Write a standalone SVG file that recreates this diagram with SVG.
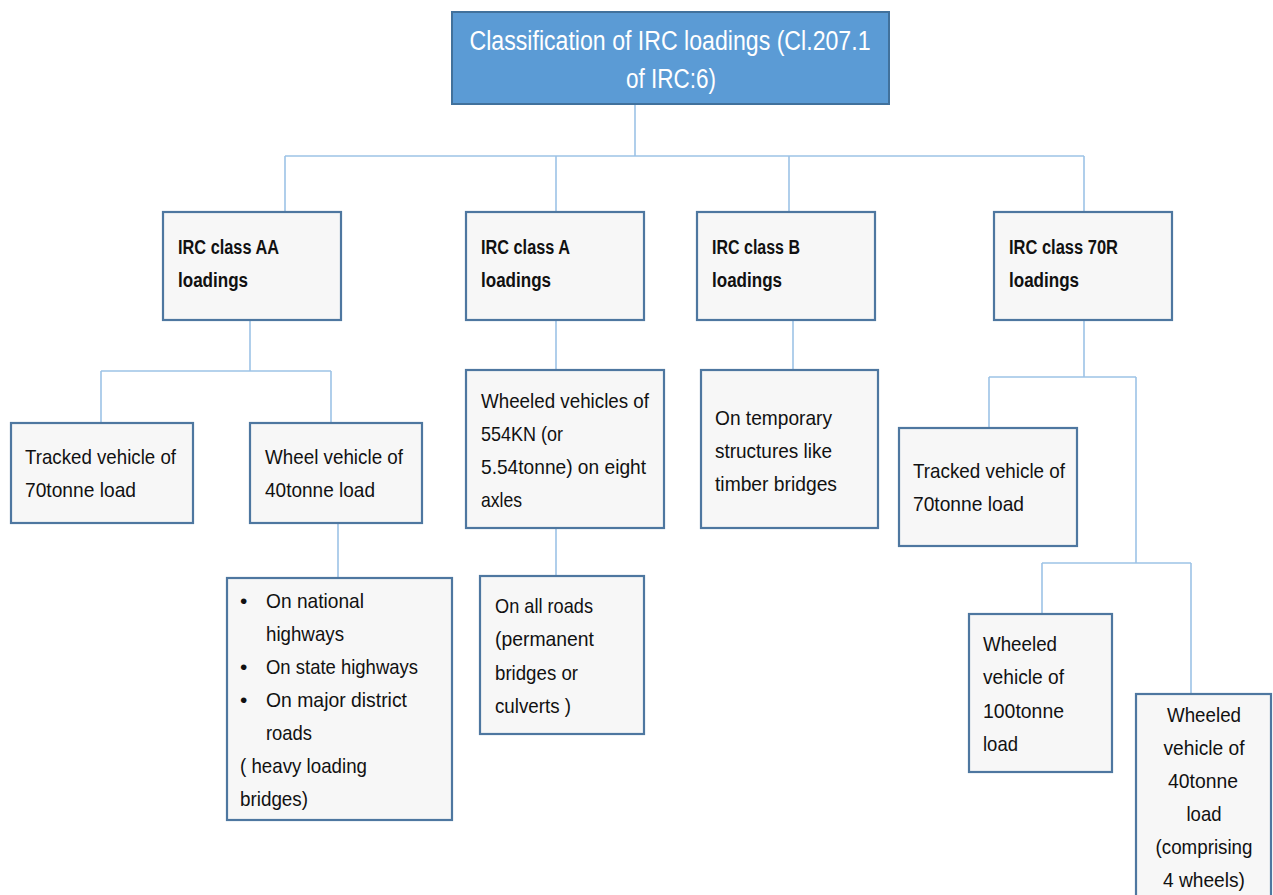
<svg xmlns="http://www.w3.org/2000/svg" width="1273" height="895" viewBox="0 0 1273 895">
<style>
.box{fill:#f7f7f7;stroke:#4e77a0;stroke-width:2.2}
.title{fill:#5b9bd5;stroke:#41719c;stroke-width:2}
.t{font-family:"Liberation Sans",Arial,sans-serif;font-size:21px;fill:#111}
.b{font-family:"Liberation Sans",Arial,sans-serif;font-size:20px;font-weight:bold;fill:#111}
.tt{font-family:"Liberation Sans",Arial,sans-serif;font-size:27px;fill:#fff;text-anchor:middle}
.c{fill:none;stroke:#9dc3e6;stroke-width:1.6}
.m{text-anchor:middle}
</style>
<rect width="1273" height="895" fill="#fff"/>
<g id="connectors">
<path class="c" d="M635 104V156M285 156H1084M285 156V212M556 156V212M789 156V212M1084 156V212"/>
<path class="c" d="M250 320V371M101 371H331M101 371V423M331 371V423M338 523V578"/>
<path class="c" d="M556 320V370M556 528V576"/>
<path class="c" d="M793 320V370"/>
<path class="c" d="M1084 320V377M989 377H1136M989 377V428M1136 377V563M1042 563H1191M1042 563V614M1191 563V694"/>
</g>
<g id="root">
<rect class="title" x="452" y="12" width="437" height="92"/>
<text class="tt" x="670" y="50" textLength="401" lengthAdjust="spacingAndGlyphs">Classification of IRC loadings (Cl.207.1</text>
<text class="tt" x="671" y="88" textLength="90" lengthAdjust="spacingAndGlyphs">of IRC:6)</text>
</g>
<g id="classAA">
<rect class="box" x="163" y="212" width="178" height="108"/>
<text class="b" x="178" y="254" textLength="101" lengthAdjust="spacingAndGlyphs">IRC class AA</text>
<text class="b" x="178" y="287" textLength="70" lengthAdjust="spacingAndGlyphs">loadings</text>
</g>
<g id="classA">
<rect class="box" x="466" y="212" width="178" height="108"/>
<text class="b" x="481" y="254" textLength="89" lengthAdjust="spacingAndGlyphs">IRC class A</text>
<text class="b" x="481" y="287" textLength="70" lengthAdjust="spacingAndGlyphs">loadings</text>
</g>
<g id="classB">
<rect class="box" x="697" y="212" width="178" height="108"/>
<text class="b" x="712" y="254" textLength="88" lengthAdjust="spacingAndGlyphs">IRC class B</text>
<text class="b" x="712" y="287" textLength="70" lengthAdjust="spacingAndGlyphs">loadings</text>
</g>
<g id="class70R">
<rect class="box" x="994" y="212" width="178" height="108"/>
<text class="b" x="1009" y="254" textLength="109" lengthAdjust="spacingAndGlyphs">IRC class 70R</text>
<text class="b" x="1009" y="287" textLength="70" lengthAdjust="spacingAndGlyphs">loadings</text>
</g>
<g id="aaTracked">
<rect class="box" x="11" y="423" width="182" height="100"/>
<text class="t" x="25" y="464" textLength="151" lengthAdjust="spacingAndGlyphs">Tracked vehicle of</text>
<text class="t" x="25" y="497" textLength="111" lengthAdjust="spacingAndGlyphs">70tonne load</text>
</g>
<g id="aaWheel">
<rect class="box" x="250" y="423" width="172" height="100"/>
<text class="t" x="265" y="464" textLength="138" lengthAdjust="spacingAndGlyphs">Wheel vehicle of</text>
<text class="t" x="265" y="497" textLength="110" lengthAdjust="spacingAndGlyphs">40tonne load</text>
</g>
<g id="aaRoads">
<rect class="box" x="227" y="578" width="225" height="242"/>
<text class="t" x="240" y="608">•</text>
<text class="t" x="266" y="608" textLength="98" lengthAdjust="spacingAndGlyphs">On national</text>
<text class="t" x="266" y="641" textLength="78" lengthAdjust="spacingAndGlyphs">highways</text>
<text class="t" x="240" y="674">•</text>
<text class="t" x="266" y="674" textLength="152" lengthAdjust="spacingAndGlyphs">On state highways</text>
<text class="t" x="240" y="707">•</text>
<text class="t" x="266" y="707" textLength="141" lengthAdjust="spacingAndGlyphs">On major district</text>
<text class="t" x="266" y="740" textLength="46" lengthAdjust="spacingAndGlyphs">roads</text>
<text class="t" x="240" y="773" textLength="127" lengthAdjust="spacingAndGlyphs">( heavy loading</text>
<text class="t" x="240" y="806" textLength="68" lengthAdjust="spacingAndGlyphs">bridges)</text>
</g>
<g id="aWheeled">
<rect class="box" x="466" y="370" width="198" height="158"/>
<text class="t" x="481" y="408" textLength="168" lengthAdjust="spacingAndGlyphs">Wheeled vehicles of</text>
<text class="t" x="481" y="441" textLength="82" lengthAdjust="spacingAndGlyphs">554KN (or</text>
<text class="t" x="481" y="474" textLength="165" lengthAdjust="spacingAndGlyphs">5.54tonne) on eight</text>
<text class="t" x="481" y="507" textLength="41" lengthAdjust="spacingAndGlyphs">axles</text>
</g>
<g id="aRoads">
<rect class="box" x="480" y="576" width="164" height="158"/>
<text class="t" x="495" y="613" textLength="98" lengthAdjust="spacingAndGlyphs">On all roads</text>
<text class="t" x="495" y="646" textLength="99" lengthAdjust="spacingAndGlyphs">(permanent</text>
<text class="t" x="495" y="680" textLength="83" lengthAdjust="spacingAndGlyphs">bridges or</text>
<text class="t" x="495" y="713" textLength="76" lengthAdjust="spacingAndGlyphs">culverts )</text>
</g>
<g id="bTemporary">
<rect class="box" x="701" y="370" width="177" height="158"/>
<text class="t" x="715" y="425" textLength="117" lengthAdjust="spacingAndGlyphs">On temporary</text>
<text class="t" x="715" y="458" textLength="117" lengthAdjust="spacingAndGlyphs">structures like</text>
<text class="t" x="715" y="491" textLength="122" lengthAdjust="spacingAndGlyphs">timber bridges</text>
</g>
<g id="rTracked">
<rect class="box" x="899" y="428" width="178" height="118"/>
<text class="t" x="913" y="478" textLength="152" lengthAdjust="spacingAndGlyphs">Tracked vehicle of</text>
<text class="t" x="913" y="511" textLength="111" lengthAdjust="spacingAndGlyphs">70tonne load</text>
</g>
<g id="rWheeled100">
<rect class="box" x="969" y="614" width="143" height="158"/>
<text class="t" x="983" y="651" textLength="74" lengthAdjust="spacingAndGlyphs">Wheeled</text>
<text class="t" x="983" y="684" textLength="81" lengthAdjust="spacingAndGlyphs">vehicle of</text>
<text class="t" x="983" y="718" textLength="81" lengthAdjust="spacingAndGlyphs">100tonne</text>
<text class="t" x="983" y="751" textLength="35" lengthAdjust="spacingAndGlyphs">load</text>
</g>
<g id="rWheeled40">
<rect class="box" x="1136" y="694" width="135" height="215"/>
<text class="t m" x="1204" y="722" textLength="74" lengthAdjust="spacingAndGlyphs">Wheeled</text>
<text class="t m" x="1204" y="755" textLength="81" lengthAdjust="spacingAndGlyphs">vehicle of</text>
<text class="t m" x="1203" y="788" textLength="70" lengthAdjust="spacingAndGlyphs">40tonne</text>
<text class="t m" x="1204" y="821" textLength="35" lengthAdjust="spacingAndGlyphs">load</text>
<text class="t m" x="1204" y="854" textLength="97" lengthAdjust="spacingAndGlyphs">(comprising</text>
<text class="t m" x="1204" y="887" textLength="82" lengthAdjust="spacingAndGlyphs">4 wheels)</text>
</g>
</svg>
